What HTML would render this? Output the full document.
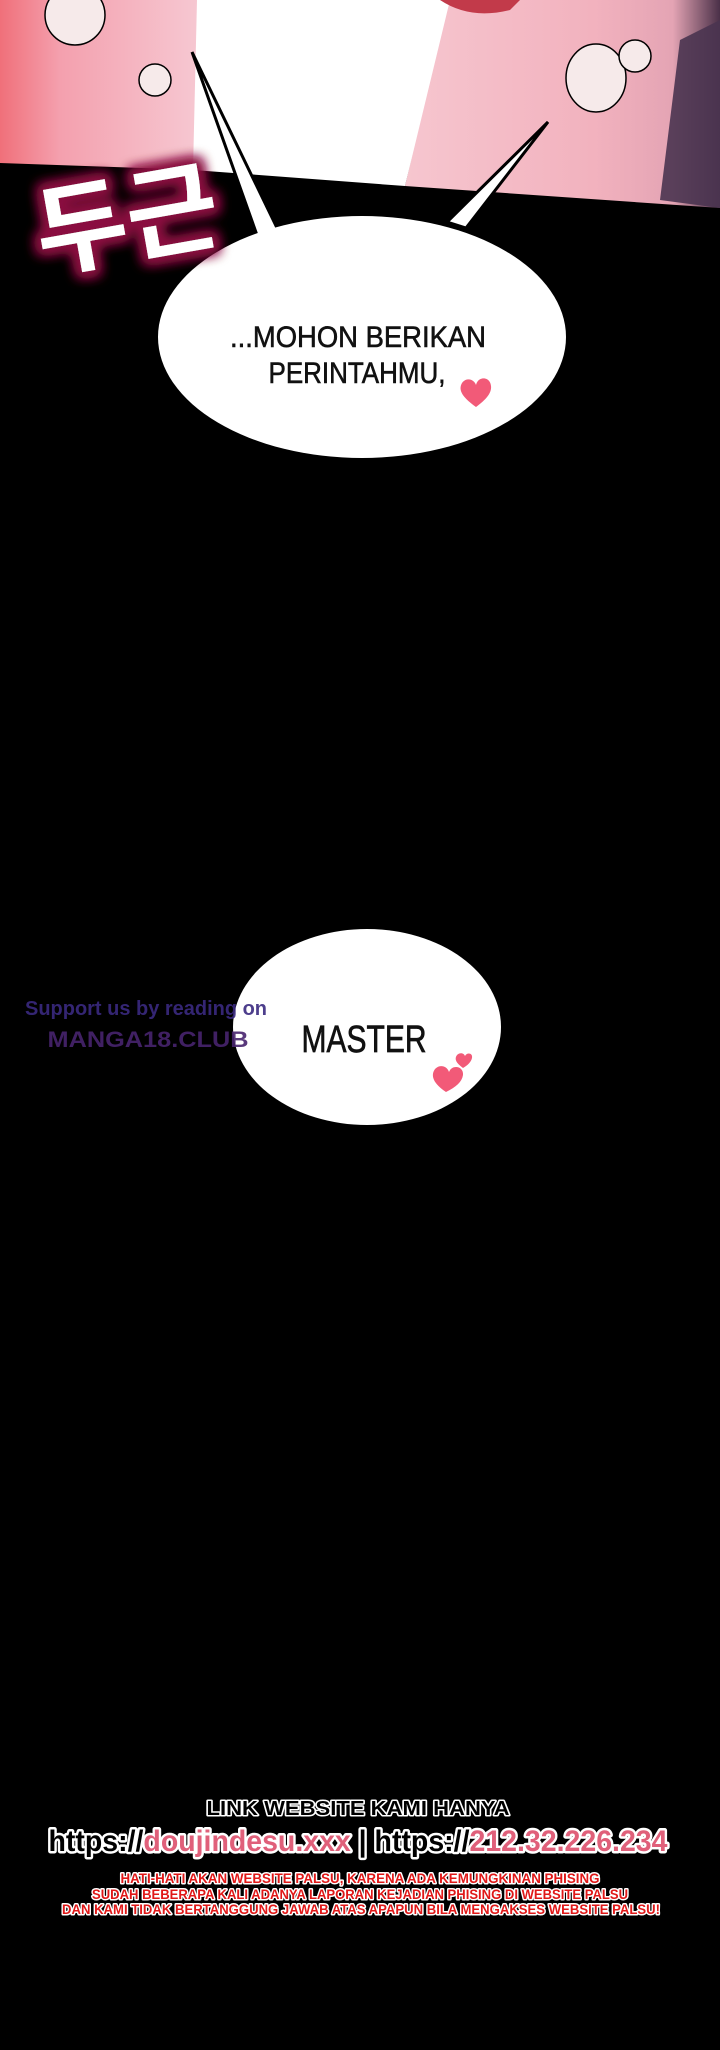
<!DOCTYPE html>
<html><head><meta charset="utf-8"><style>
html,body{margin:0;padding:0;background:#000;}
body{width:720px;height:2050px;overflow:hidden;position:relative;}
svg{position:absolute;left:0;top:0;}
</style></head><body>
<svg width="720" height="2050" viewBox="0 0 720 2050" xmlns="http://www.w3.org/2000/svg">
<defs>
<linearGradient id="pl" x1="0" y1="0" x2="1" y2="0">
<stop offset="0" stop-color="#f0707a"/><stop offset="0.3" stop-color="#f4a0ae"/><stop offset="1" stop-color="#f6c8d2"/>
</linearGradient>
<linearGradient id="pr" x1="0" y1="0" x2="1" y2="0">
<stop offset="0" stop-color="#f6c6cf"/><stop offset="0.6" stop-color="#f2b2be"/><stop offset="0.85" stop-color="#e4a4b4"/><stop offset="1" stop-color="#4a3048"/>
</linearGradient>
<filter id="glow" x="-30%" y="-30%" width="160%" height="160%"><feMorphology in="SourceAlpha" operator="dilate" radius="5" result="d"/><feGaussianBlur in="d" stdDeviation="6" result="b"/><feFlood flood-color="#8a1040"/><feComposite in2="b" operator="in" result="g"/><feMerge><feMergeNode in="g"/><feMergeNode in="g"/><feMergeNode in="SourceGraphic"/></feMerge></filter>
</defs>
<rect width="720" height="2050" fill="#000"/>
<polygon points="0,0 200,0 200,170 0,163" fill="url(#pl)"/>
<polygon points="448,0 720,0 720,208 405,186" fill="url(#pr)"/>
<polygon points="680,40 720,20 720,208 660,200" fill="#4a3450" opacity="0.9"/>
<polygon points="197,0 450,0 405,186 193,170" fill="#fff"/>
<path d="M440,0 Q470,20 510,10 L520,0Z" fill="#c23a4a"/>
<circle cx="75" cy="15" r="30" fill="#f6eaea" stroke="#000" stroke-width="1.5"/>
<circle cx="155" cy="80" r="16" fill="#f6eaea" stroke="#000" stroke-width="1.5"/>
<ellipse cx="596" cy="78" rx="30" ry="34" fill="#f6eaea" stroke="#000" stroke-width="1.5"/>
<circle cx="635" cy="56" r="16" fill="#f6eaea" stroke="#000" stroke-width="1.5"/>
<polygon points="192,52 258,238 278,230" fill="#fff" stroke="#000" stroke-width="3"/>
<polygon points="548,122 447,222 466,228" fill="#fff" stroke="#000" stroke-width="3"/>
<ellipse cx="362" cy="337" rx="204" ry="121" fill="#fff"/>
<text x="358" y="347" font-family="Liberation Sans Narrow, Liberation Sans, sans-serif" font-size="30" text-anchor="middle" fill="#111" stroke="#111" stroke-width="0.6" textLength="256" lengthAdjust="spacingAndGlyphs">...MOHON BERIKAN</text>
<text x="357" y="383" font-family="Liberation Sans Narrow, Liberation Sans, sans-serif" font-size="30" text-anchor="middle" fill="#111" stroke="#111" stroke-width="0.6" textLength="177" lengthAdjust="spacingAndGlyphs">PERINTAHMU,</text>
<path d="M476,407 C462,397 458,390 462,383 C466,377 474,379 476,385 C478,376 490,376 491,386 C492,394 484,401 476,407Z" fill="#f25a78"/>
<g filter="url(#glow)">
<text x="125" y="255" font-family="Noto Sans CJK KR, NanumGothic, sans-serif" font-size="100" font-weight="bold" fill="#fff" text-anchor="middle" transform="rotate(-10 125 210)">두근</text>
</g>
<ellipse cx="367" cy="1027" rx="134" ry="98" fill="#fff"/>
<text x="364" y="1052" font-family="Liberation Sans Narrow, Liberation Sans, sans-serif" font-size="38" text-anchor="middle" fill="#111" stroke="#111" stroke-width="0.7" textLength="125" lengthAdjust="spacingAndGlyphs">MASTER</text>
<path d="M446,1092 C434,1084 430,1076 435,1069 C440,1064 447,1066 449,1072 C452,1064 464,1066 463,1075 C462,1082 456,1087 446,1092Z" fill="#f25a78"/>
<path d="M463,1068 C456,1063 454,1059 457,1055 C460,1052 464,1053 465,1056 C467,1052 473,1053 472,1058 C471,1062 468,1065 463,1068Z" fill="#f25a78"/>
<text x="146" y="1015" font-family="Liberation Sans, sans-serif" font-size="20" font-weight="bold" text-anchor="middle" fill="#3a2a80" opacity="0.9" textLength="242" lengthAdjust="spacingAndGlyphs">Support us by reading on</text>
<text x="148" y="1047" font-family="Liberation Sans, sans-serif" font-size="22" font-weight="bold" text-anchor="middle" fill="#48246e" opacity="0.9" textLength="201" lengthAdjust="spacingAndGlyphs">MANGA18.CLUB</text>
<g font-family="Liberation Sans, sans-serif" font-weight="bold" text-anchor="middle" paint-order="stroke" stroke-linejoin="round">
<text x="358" y="1815" font-size="20" fill="#000" stroke="#fff" stroke-width="3" textLength="303" lengthAdjust="spacingAndGlyphs">LINK WEBSITE KAMI HANYA</text>
<text x="358" y="1851" font-size="30" fill="#000" stroke="#fff" stroke-width="5" textLength="619" lengthAdjust="spacingAndGlyphs">https://<tspan fill="#e0607a">doujindesu.xxx</tspan> | https://<tspan fill="#e0607a">212.32.226.234</tspan></text>
<text x="360" y="1883" font-size="14" fill="#e01818" stroke="#fff" stroke-width="3" textLength="479" lengthAdjust="spacingAndGlyphs">HATI-HATI AKAN WEBSITE PALSU, KARENA ADA KEMUNGKINAN PHISING</text>
<text x="360" y="1899" font-size="14" fill="#e01818" stroke="#fff" stroke-width="3" textLength="536" lengthAdjust="spacingAndGlyphs">SUDAH BEBERAPA KALI ADANYA LAPORAN KEJADIAN PHISING DI WEBSITE PALSU</text>
<text x="361" y="1914" font-size="14" fill="#e01818" stroke="#fff" stroke-width="3" textLength="598" lengthAdjust="spacingAndGlyphs">DAN KAMI TIDAK BERTANGGUNG JAWAB ATAS APAPUN BILA MENGAKSES WEBSITE PALSU!</text>
</g>
</svg>
</body></html>
